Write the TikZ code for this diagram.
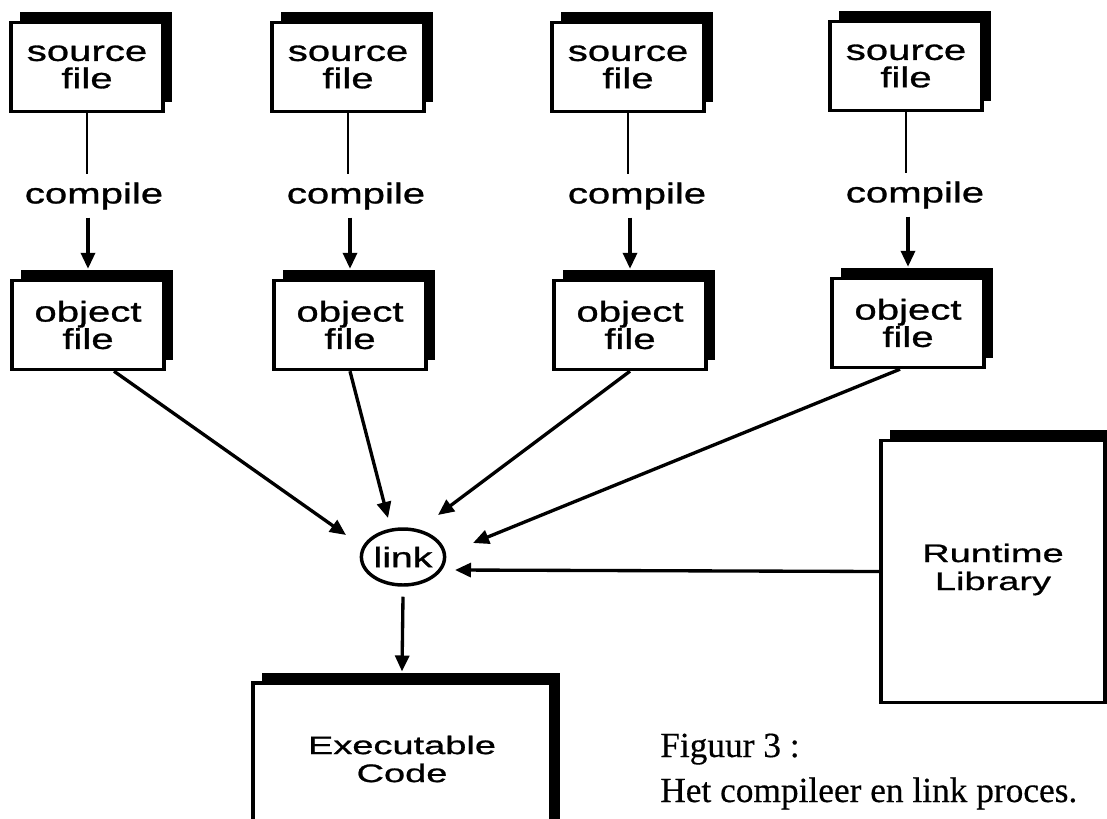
\documentclass[tikz,border=0pt]{standalone}
\usepackage{fontspec}
\newfontfamily\boxfont[FakeStretch=1.4,FakeBold=1.0]{Liberation Sans}
\newfontfamily\bigfont[FakeStretch=1.5,FakeBold=0.9]{Liberation Sans}
\newfontfamily\capfont[FakeBold=0.4]{Liberation Serif}
\usetikzlibrary{arrows.meta,shadows,shapes.geometric}
\begin{document}
\begin{tikzpicture}[x=0.75pt,y=-0.75pt,
  fbox/.style={draw, line width=2.3pt, fill=white, align=center, inner sep=0pt,
    general shadow={fill=black, shadow xshift=7pt, shadow yshift=7.5pt}},
  smallbox/.style={fbox, minimum width=114pt, minimum height=67pt,
    font=\boxfont\fontsize{21.5}{20.5}\selectfont},
  bigbox/.style={fbox, font=\bigfont\fontsize{19}{21}\selectfont},
  lab/.style={inner sep=0pt, minimum height=32pt, font=\boxfont\fontsize{21.5}{20.5}\selectfont},
  linkst/.style={ellipse, draw, line width=2.6pt, inner sep=0pt, minimum width=58pt, minimum height=42pt,
    font=\boxfont\fontsize{21}{20}\selectfont},
  plain/.style={line width=2pt},
  arr/.style={line width=2.5pt, -{Triangle[length=12pt,width=10.5pt]}},
  capt/.style={anchor=base west, inner sep=0pt, font=\capfont\fontsize{26.5}{34}\selectfont}
]
\useasboundingbox (0,0) rectangle (1107,818);
\clip (0,0) rectangle (1107,818);
\fill[white] (0,0) rectangle (1107,818);

% source files
\node[smallbox] (s1) at (87,67) {source\\file};
\node[smallbox] (s2) at (348,67) {source\\file};
\node[smallbox] (s3) at (628,67) {source\\file};
\node[smallbox] (s4) at (906,66) {source\\file};

% compile labels
\node[lab] (c1) at (94,196) {compile};
\node[lab] (c2) at (356,196) {compile};
\node[lab] (c3) at (637,196) {compile};
\node[lab] (c4) at (915,195) {compile};

% object files
\node[smallbox] (o1) at (88,325) {object\\file};
\node[smallbox] (o2) at (350,325) {object\\file};
\node[smallbox] (o3) at (630,325) {object\\file};
\node[smallbox] (o4) at (908,323) {object\\file};

% link
\node[linkst] (lk) at (403,557) {link};

% runtime library and executable
\node[bigbox, minimum width=168pt, minimum height=197pt] (rt) at (993,571.5) {Runtime\\Library\\[-14pt]};
\node[bigbox, minimum width=223.5pt, minimum height=114pt] (ex) at (402,759) {Executable\\Code};

% caption
\node[capt] (cap1) at (660,757) {Figuur 3 :};
\node[capt] (cap2) at (660,802) {Het compileer en link proces.};

% source -> compile -> object
\foreach \i in {1,2,3,4}{
  \draw[plain] (s\i.south) -- (s\i.south |- c\i.north);
  \draw[arr] (o\i.north |- c\i.south) -- ([yshift=7.5pt]o\i.north);
}

% object -> link
\draw[arr] ([xshift=19.5pt]o1.south) -- ([shift={(-57,-22)}]lk.center);
\draw[arr] (o2.south) -- ([shift={(-15,-39)}]lk.center);
\draw[arr] (o3.south) -- ([shift={(35,-42)}]lk.center);
\draw[arr] ([xshift=-6pt]o4.south) -- ([shift={(70,-14)}]lk.center);
% runtime -> link
\draw[arr] (rt.west) -- ([shift={(52,13)}]lk.center);
% link -> executable
\draw[arr] ([yshift=-7.5pt]lk.south) -- ([yshift=7.5pt]ex.north);
\end{tikzpicture}
\end{document}
